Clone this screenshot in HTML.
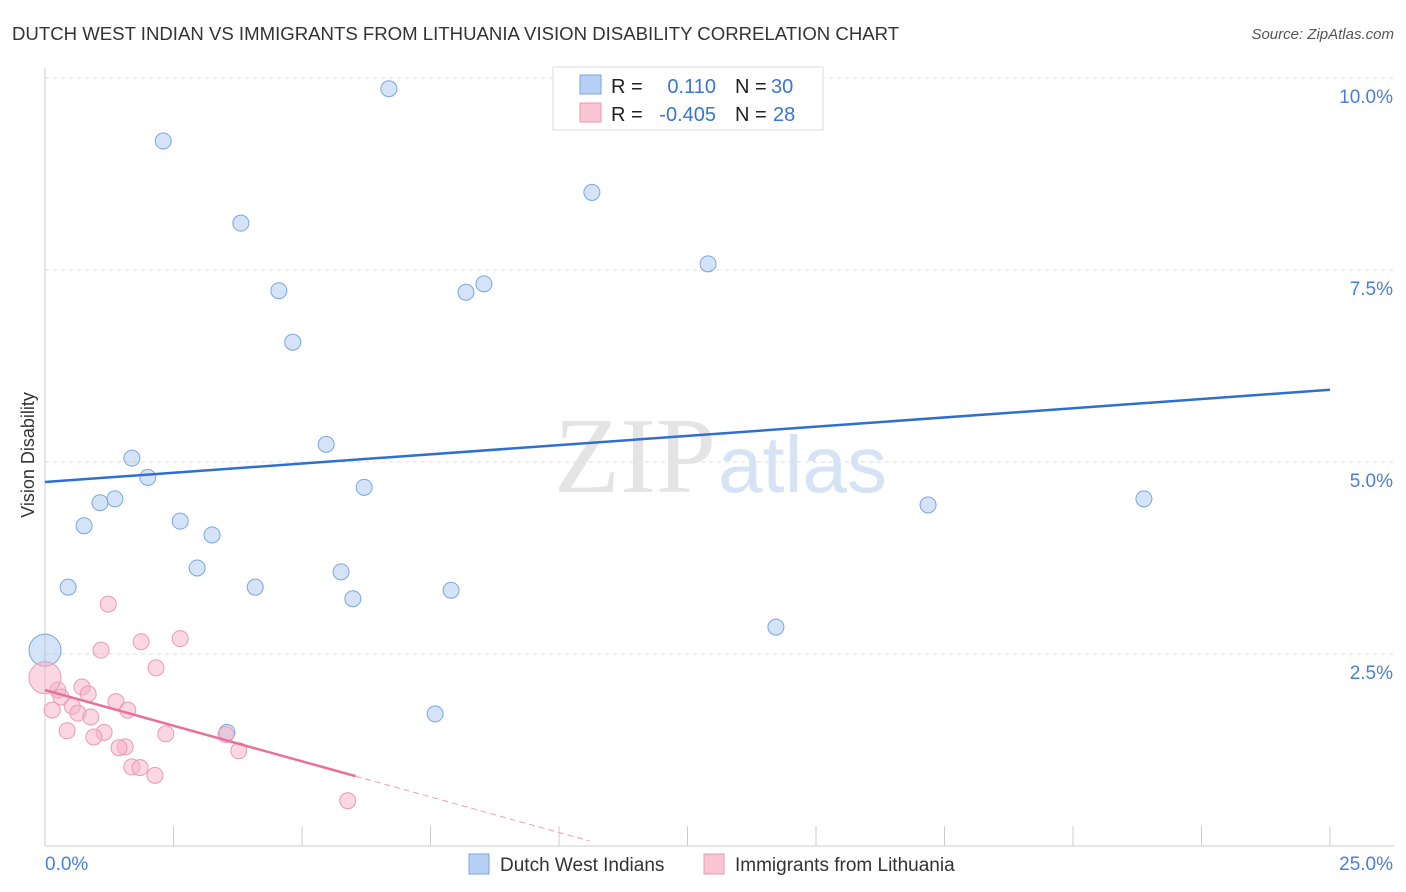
<!DOCTYPE html>
<html><head><meta charset="utf-8"><style>
body{margin:0;background:#fff;font-family:"Liberation Sans",sans-serif;}
svg{display:block}
</style></head><body>
<svg id="chart" width="1406" height="892">
<text x="12" y="40" font-size="18.6" fill="#333">DUTCH WEST INDIAN VS IMMIGRANTS FROM LITHUANIA VISION DISABILITY CORRELATION CHART</text>
<text x="1394" y="39" font-size="15" fill="#555" font-style="italic" text-anchor="end">Source: ZipAtlas.com</text>
<g id="grid"></g>
<text x="716" y="492" font-size="108" fill="#e4e4e4" font-family="Liberation Serif" text-anchor="end">ZIP</text>
<text x="718" y="492" font-size="80" fill="#d6e3f5" text-anchor="start">atlas</text>
<text transform="translate(34,455) rotate(-90)" font-size="18" fill="#333" text-anchor="middle">Vision Disability</text>
<g id="marks"></g>
<g>
<rect x="553" y="67" width="270" height="63" fill="#fff" stroke="#ddd"/>
<rect x="580" y="75" width="21" height="19" fill="#b7d0f5" stroke="#7aa6e0"/>
<rect x="580" y="103" width="21" height="19" fill="#f9c4d4" stroke="#eb9ab5"/>
<text x="611" y="93" font-size="20" fill="#222">R =</text>
<text x="716" y="93" font-size="20" fill="#3a75d4" text-anchor="end">0.110</text>
<text x="735" y="93" font-size="20" fill="#222">N =</text>
<text x="771" y="93" font-size="20" fill="#3a75d4">30</text>
<text x="611" y="121" font-size="20" fill="#222">R =</text>
<text x="716" y="121" font-size="20" fill="#3a75d4" text-anchor="end">-0.405</text>
<text x="735" y="121" font-size="20" fill="#222">N =</text>
<text x="773" y="121" font-size="20" fill="#3a75d4">28</text>
</g>
<g>
<rect x="469" y="854" width="20" height="20" fill="#b7d0f5" stroke="#7aa6e0"/>
<text x="500" y="871" font-size="19" fill="#333">Dutch West Indians</text>
<rect x="704" y="854" width="20" height="20" fill="#f9c4d4" stroke="#eb9ab5"/>
<text x="735" y="871" font-size="19" fill="#333">Immigrants from Lithuania</text>
</g>
</svg>
<script>
const blueX=[6.69,2.30,10.64,3.81,12.90,4.55,8.19,8.54,4.82,5.47,1.69,2.00,6.21,1.36,1.07,0.76,2.63,3.25,17.18,21.38,2.96,0.45,4.09,5.76,5.99,7.90,14.22,7.59,3.54,0];
const blueY=[9.86,9.18,8.51,8.11,7.58,7.23,7.21,7.32,6.56,5.23,5.05,4.80,4.67,4.52,4.47,4.17,4.23,4.05,4.44,4.52,3.62,3.37,3.37,3.57,3.22,3.33,2.85,1.72,1.48,2.55];
const pinkX=[1.23,2.63,1.87,1.09,2.16,0.72,0.25,0.84,0.31,1.38,0.53,0.14,0.64,0.89,1.61,0.43,1.15,2.35,3.52,0.95,1.56,1.44,3.77,1.69,1.85,2.14,5.89,0];
const pinkY=[3.15,2.70,2.66,2.55,2.32,2.07,2.03,1.98,1.94,1.88,1.82,1.77,1.73,1.68,1.77,1.50,1.48,1.46,1.45,1.42,1.29,1.28,1.24,1.03,1.02,0.92,0.59,2.19];
const blueTrend=[4.74,5.94];
const pinkTrend=[2.03,0.91];
const yTicks=[2.5,5.0,7.5,10.0];
const yTickLabels=["2.5%","5.0%","7.5%","10.0%"];
const NS="http://www.w3.org/2000/svg";
const sx=v=>45+v*51.4, sy=v=>846-v*76.8;
function mk(tag,attrs,parent){const e=document.createElementNS(NS,tag);for(const k in attrs)e.setAttribute(k,attrs[k]);parent.appendChild(e);return e;}
const g=document.getElementById('grid'), m=document.getElementById('marks');
yTicks.forEach((t,i)=>{
  const l=mk('line',{x1:45,x2:1394,y1:sy(t),y2:sy(t),stroke:'#ddd','stroke-dasharray':'4,4'},g);
  
  
  const tx=mk('text',{x:1393,y:sy(t)+25,'font-size':19,fill:'#4a7fd6','text-anchor':'end'},g);
  tx.textContent=yTickLabels[i];
  
  
});
const ax=mk('line',{x1:45,x2:45,y1:68,y2:846,stroke:'#ccc'},g);


const bx=mk('line',{x1:45,x2:1394,y1:846,y2:846,stroke:'#ccc'},g);


for(let i=0;i<=10;i++){const t=mk('line',{x1:sx(i*2.5),x2:sx(i*2.5),y1:826,y2:846,stroke:'#ccc'},g);
  
  }
[["0.0%",45,'start'],["25.0%",1393,'end']].forEach(a=>{const t=mk('text',{x:a[1],y:870,'font-size':19,fill:'#4a7fd6','text-anchor':a[2]},g);t.textContent=a[0];
  
  });
function pts(X,Y,fill,stroke,name){X.forEach((x,i)=>{const last=(x===0);
  const c=mk('circle',{cx:sx(x),cy:sy(Y[i]),r:last?16:8,fill:fill,stroke:stroke,'stroke-width':1},m);
  
  });}
pts(blueX,blueY,'rgba(170,200,242,0.5)','#7aa6e0','dutch-west-indian-point');
pts(pinkX,pinkY,'rgba(245,175,198,0.5)','#eb9ab5','lithuania-point');
const bl=mk('line',{x1:sx(0),y1:sy(blueTrend[0]),x2:sx(25),y2:sy(blueTrend[1]),stroke:'#2f6fd1','stroke-width':2.5},m);


const slope=(pinkTrend[1]-pinkTrend[0])/6.04;
const pl=mk('line',{x1:sx(0),y1:sy(pinkTrend[0]),x2:sx(6.04),y2:sy(pinkTrend[1]),stroke:'#e8719a','stroke-width':2.5},m);


const pd=mk('line',{x1:sx(6.04),y1:sy(pinkTrend[1]),x2:sx(10.6),y2:sy(pinkTrend[1]+slope*4.56),stroke:'#e8a0b8','stroke-width':1,'stroke-dasharray':'6,4'},m);


</script>
</body></html>
